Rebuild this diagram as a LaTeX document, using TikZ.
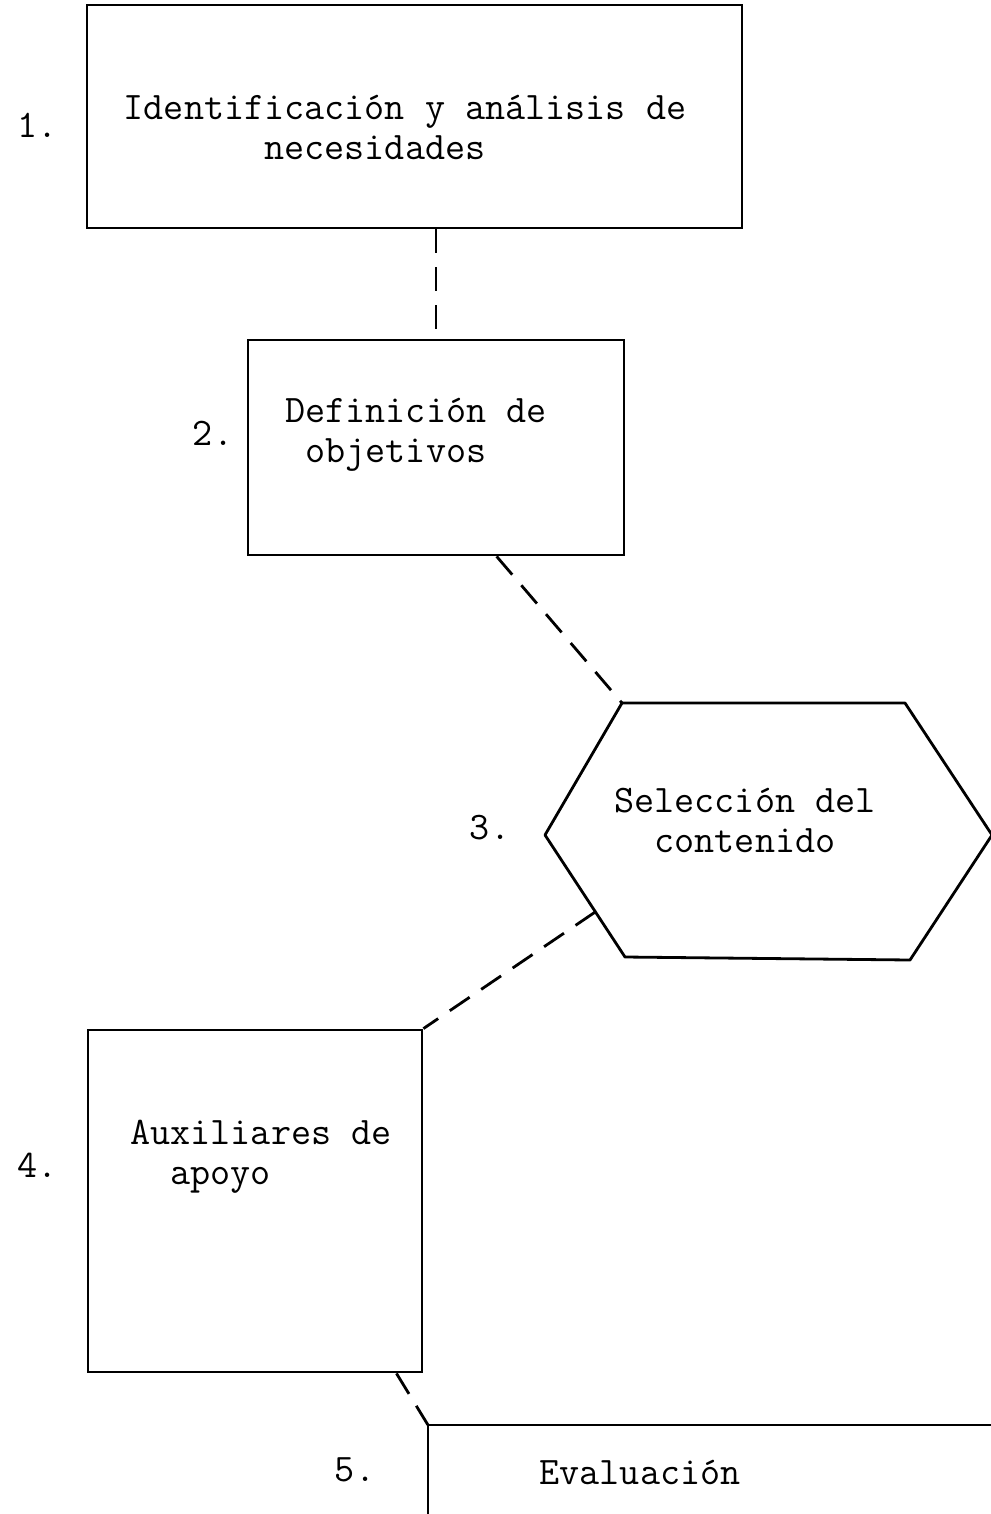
\documentclass[tikz,border=0pt]{standalone}
\usepackage{fontspec}
\usetikzlibrary{calc}
\tikzset{
	caja/.style={draw,line width=1.4pt,inner sep=0pt},
	texto/.style={font=\ttfamily\fontsize{19.5}{20}\selectfont,inner sep=0pt},
	numero/.style={font=\ttfamily\fontsize{19.5}{20}\selectfont,inner sep=0pt},
	conector/.style={line width=1.4pt,dash pattern=on 12pt off 7pt},
	borde/.style={line width=1.4pt,line join=round}
}
\begin{document}
\begin{tikzpicture}[x=.5pt,y=-.5pt]
				\useasboundingbox (0,0) rectangle (990,1514);
				% cajas
				\node[caja,minimum width=327.5pt,minimum height=111.5pt]
					(necesidades) at (414.5,116.5) {};
				\node[caja,minimum width=188pt,minimum height=107.5pt]
					(objetivos) at (436,447.5) {};
				\node[caja,minimum width=167pt,minimum height=171pt]
					(auxiliares) at (255,1201) {};
				% hexagono
				\coordinate (h1) at (622,703);
				\coordinate (h2) at (905,703);
				\coordinate (h3) at (992,835);
				\coordinate (h4) at (910,960);
				\coordinate (h5) at (625,957);
				\coordinate (h6) at (545,835);
				\draw[borde] (h1) -- (h2) -- (h3) -- (h4) -- (h5) -- (h6) -- cycle;
				% evaluacion
				\coordinate (evaluacion) at (428,1425);
				\draw[borde] (992,1425) -- (evaluacion) -- (428,1516);
				% textos
				\node[texto,align=left] (t1) at (405,127)
					{Identificación y análisis de\\\phantom{xxxxxxx}necesidades};
				\node[texto,align=left] (t2) at (416,435)
					{Definición de\\\phantom{x}objetivos};
				\node[texto,align=center] (t3) at (745,820)
					{Selección del\\contenido};
				\node[texto,align=left] (t4) at (261,1157)
					{Auxiliares de\\\phantom{xx}apoyo};
				\node[texto] (t5) at (640,1472) {Evaluación};
				% numeros
				\node[numero] (n1) at (38,125) {1.};
				\node[numero] (n2) at (213,433) {2.};
				\node[numero] (n3) at (490,828) {3.};
				\node[numero] (n4) at (38,1165) {4.};
				\node[numero] (n5) at (355,1470) {5.};
				% conectores
				\draw[conector] (necesidades.south -| objetivos.north) -- (objetivos.north);
				\draw[conector] ($(objetivos.south west)!.66!(objetivos.south east)$) -- (h1);
				\draw[conector] ($(h6)!.63!(h5)$) -- (auxiliares.north east);
				\draw[conector] ($(auxiliares.south west)!.92!(auxiliares.south east)$) -- (evaluacion);
			\end{tikzpicture}
\end{document}
